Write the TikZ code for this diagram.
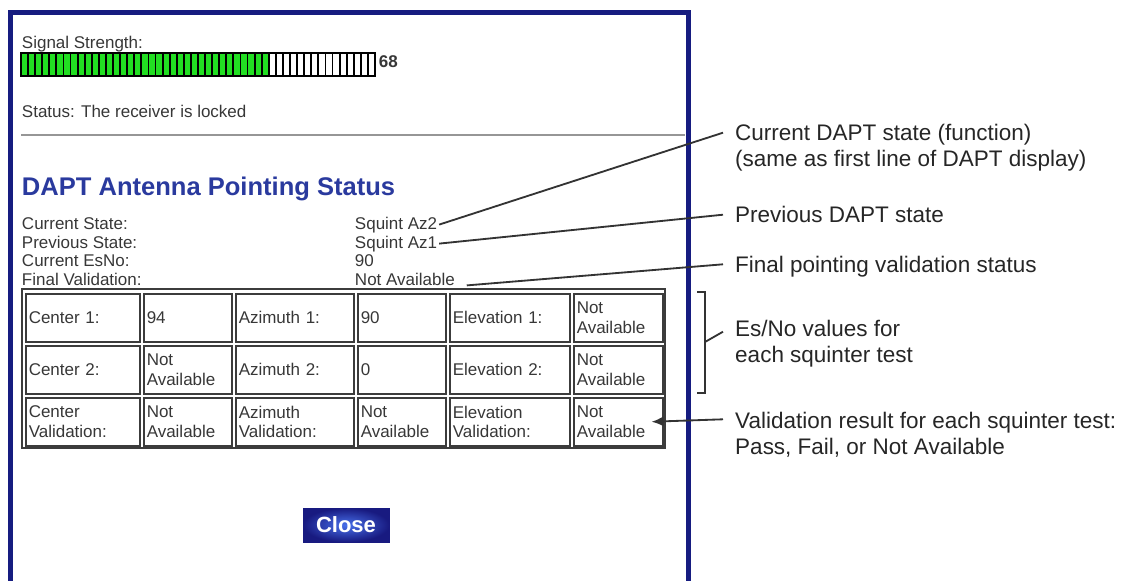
\documentclass[tikz,border=0pt]{standalone}
\usepackage{fontspec}
\setmainfont{Liberation Sans}
\usetikzlibrary{arrows.meta,calc}

\definecolor{frameNavy}{RGB}{22,28,128}
\definecolor{headBlue}{RGB}{42,58,158}
\definecolor{barGreen}{RGB}{34,222,34}
\definecolor{uiGray}{RGB}{55,55,55}
\definecolor{cellGray}{RGB}{60,60,60}
\definecolor{sepGray}{RGB}{150,150,150}
\definecolor{btnLight}{RGB}{72,112,235}
\definecolor{btnDark}{RGB}{24,26,128}

\tikzset{
  ui/.style={font=\fontsize{14.5}{16.5}\selectfont, text=uiGray, inner sep=1.5pt, anchor=base west},
  head/.style={font=\fontsize{21.8}{24}\selectfont\bfseries, text=headBlue, inner sep=1.5pt, anchor=base west},
  note/.style={font=\fontsize{19.2}{22.4}\selectfont, text=black!85, inner sep=0pt, anchor=base west, align=left},
  cell/.style={draw=cellGray, line width=0.045cm, anchor=north west, inner xsep=0.09cm, inner ysep=0pt,
    minimum height=1.44cm, text width=#1cm, align=left, font=\fontsize{14.5}{16.5}\selectfont, text=uiGray},
  callout/.style={line width=0.055cm, black!80},
  closebtn/.style={draw=btnDark, inner color=btnLight, outer color=btnDark, minimum width=2.58cm,
    minimum height=1.02cm, text=white, font=\fontsize{18.8}{20}\selectfont\bfseries}
}

\begin{document}
\begin{tikzpicture}[x=0.03cm, y=-0.03cm]
\useasboundingbox (0,0) rectangle (1134,581);

% window frame
\draw[frameNavy, line width=0.15cm] (10,581) -- (10,12.5) -- (688,12.5) -- (688,581);

% signal strength bar
\node[ui] (sigLbl) at (20,48) {Signal Strength:};
\foreach \i in {0,...,49}{
  \ifnum\i<35 \def\segfill{barGreen}\else\def\segfill{white}\fi
  \draw[fill=\segfill, line width=0.055cm] ({21+7.08*\i},53) rectangle ({21+7.08*(\i+1)},76);
}
\draw[line width=0.06cm] (21,53) rectangle (375,76);
\node[ui, font=\fontsize{14.5}{16.5}\selectfont\bfseries] (sigVal) at (377,67) {68};

\node[ui] (status) at (20,117) {Status: The receiver is locked};
\draw[sepGray, line width=0.06cm] (21,135) -- (685,135);

% pointing status
\node[head] (heading) at (20,195.5) {DAPT Antenna Pointing Status};
\node[ui] (lblCur) at (20,229) {Current State:};
\node[ui] (lblPrev) at (20,248) {Previous State:};
\node[ui] (lblEs) at (20,266.7) {Current EsNo:};
\node[ui] (lblFin) at (20,285.4) {Final Validation:};
\node[ui] (valCur) at (353,229) {Squint Az2};
\node[ui] (valPrev) at (353,248) {Squint Az1};
\node[ui] (valEs) at (353,266.7) {90};
\node[ui] (valFin) at (353,285.4) {Not Available};

% squinter table
\draw[cellGray, line width=0.045cm] (22,289) rectangle (665,448);
\node[cell=3.24] (c11) at (25,293) {Center 1:};
\node[cell=2.46] (c12) at (143,293) {94};
\node[cell=3.36] (c13) at (235,293) {Azimuth 1:};
\node[cell=2.46] (c14) at (357,293) {90};
\node[cell=3.42] (c15) at (449,293) {Elevation 1:};
\node[cell=2.49] (c16) at (573,293) {Not\\Available};
\node[cell=3.24] (c21) at (25,345) {Center 2:};
\node[cell=2.46] (c22) at (143,345) {Not\\Available};
\node[cell=3.36] (c23) at (235,345) {Azimuth 2:};
\node[cell=2.46] (c24) at (357,345) {0};
\node[cell=3.42] (c25) at (449,345) {Elevation 2:};
\node[cell=2.49] (c26) at (573,345) {Not\\Available};
\node[cell=3.24] (c31) at (25,397) {Center\\Validation:};
\node[cell=2.46] (c32) at (143,397) {Not\\Available};
\node[cell=3.36] (c33) at (235,397) {Azimuth\\Validation:};
\node[cell=2.46] (c34) at (357,397) {Not\\Available};
\node[cell=3.42] (c35) at (449,397) {Elevation\\Validation:};
\node[cell=2.49] (c36) at (573,397) {Not\\Available};

\node[closebtn] (close) at (346,525) {Close};

% callouts (two-line notes sit on the baseline of their last line)
\node[note] (noteCur) at (735,166.7) {Current DAPT state (function)\\(same as first line of DAPT display)};
\node[note] (notePrev) at (735,222.7) {Previous DAPT state};
\node[note] (noteFin) at (735,272.3) {Final pointing validation status};
\node[note] (noteEs) at (735,362.7) {Es/No values for\\each squinter test};
\node[note] (noteVal) at (735,454.3) {Validation result for each squinter test:\\Pass, Fail, or Not Available};

\draw[callout] (valCur.east) -- ($(noteCur.base west)+(-12,-34)$);
\draw[callout] (valPrev.east) -- ($(notePrev.base west)+(-12,-8)$);
\draw[callout] ($(valFin.base east)+(10,0)$) -- ($(noteFin.base west)+(-12,-8)$);
\draw[callout] (697,292) -- (705,292) -- (705,393) -- (697,393); % bracket over the Es/No rows
\draw[callout] (705,342) -- ($(noteEs.base west)+(-12,-31)$);
\draw[callout, -{Latex[length=0.36cm, width=0.3cm]}] ($(noteVal.base west)+(-12,-35)$) -- ($(c36.east)+(-12,0)$);
\end{tikzpicture}
\end{document}
